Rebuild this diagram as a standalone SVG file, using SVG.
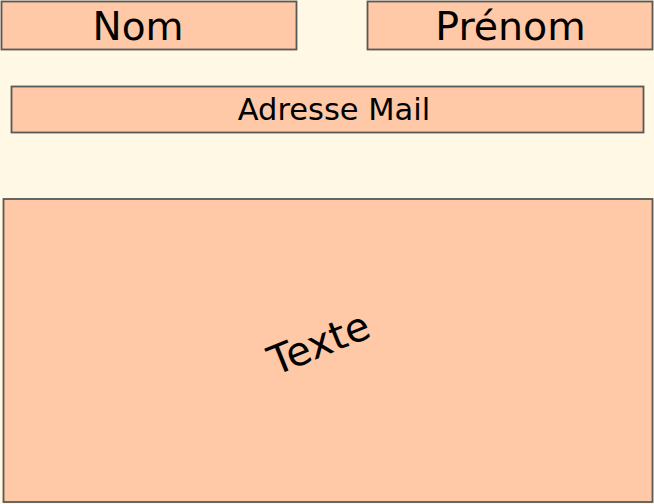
<svg xmlns="http://www.w3.org/2000/svg" width="654" height="504" viewBox="0 0 654 504">
<style>
.box{fill:#FFC8A6;stroke:#585858;stroke-width:1.8}
.lbl{font-family:"DejaVu Sans",Verdana,sans-serif;fill:#000;text-anchor:middle}
</style>
<rect x="0" y="0" width="654" height="504" fill="#FFF8E4"/>
<g id="nom">
<rect class="box" x="1.5" y="1.5" width="295" height="48"/>
<text class="lbl" x="138" y="39.5" font-size="39">Nom</text>
</g>
<g id="prenom">
<rect class="box" x="367.5" y="1.5" width="285" height="48"/>
<text class="lbl" x="510.5" y="39.5" font-size="39.5">Prénom</text>
</g>
<g id="adresse">
<rect class="box" x="11.5" y="86.5" width="632" height="46"/>
<text class="lbl" x="334" y="120" font-size="30.5">Adresse Mail</text>
</g>
<g id="texte">
<rect class="box" x="3.5" y="199" width="649" height="303"/>
<text class="lbl" font-size="40" transform="translate(319,343) rotate(-22)" x="0" y="14">Texte</text>
</g>
<g id="connectors"/>
</svg>
